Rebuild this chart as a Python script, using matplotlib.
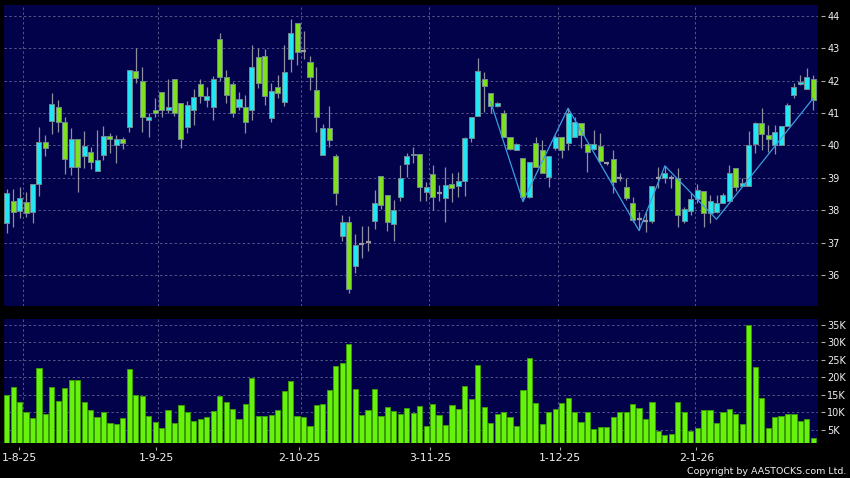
import matplotlib
matplotlib.use("Agg")
import matplotlib.pyplot as plt
import numpy as np
from matplotlib.ticker import FixedLocator, FuncFormatter

# ---------------- data ----------------
opens = [37.59, 38.29, 37.98, 38.24, 37.93, 38.80, 40.11, 40.76, 41.18, 40.74,
         39.32, 40.19, 39.69, 39.80, 39.20, 39.72, 40.29, 40.00, 40.19, 40.58,
         42.30, 41.99, 40.80, 41.09, 41.64, 41.09, 42.04, 41.32, 40.56, 41.09,
         41.89, 41.39, 41.20, 43.28, 42.12, 41.90, 41.20, 41.20, 41.11, 42.74,
         42.77, 40.84, 41.81, 41.33, 42.66, 43.77, 42.91, 42.57, 41.71, 39.70,
         40.53, 39.68, 37.21, 37.64, 36.28, 36.97, 37.02, 37.67, 39.07, 38.48,
         37.57, 38.41, 39.44, 39.70, 39.75, 38.55, 39.12, 38.54, 38.39, 38.80,
         38.75, 38.90, 40.24, 40.91, 42.04, 41.61, 41.22, 40.99, 40.25, 39.86,
         39.60, 38.42, 40.09, 39.86, 39.02, 39.91, 40.25, 40.07, 40.25, 40.70,
         40.05, 39.88, 39.99, 39.45, 39.57, 38.98, 38.71, 38.21, 37.72, 37.67,
         37.67, 39.00, 39.00, 39.00, 38.98, 37.67, 37.98, 38.34, 38.60, 37.90,
         37.95, 38.23, 38.27, 39.29, 38.74, 38.74, 40.03, 40.68, 40.32, 40.01,
         40.01, 40.60, 41.56, 41.90, 41.73, 42.04]
highs = [38.65, 38.65, 38.71, 38.55, 38.82, 40.58, 40.32, 41.62, 41.40, 40.87,
         40.53, 40.19, 40.44, 39.96, 40.47, 40.61, 40.37, 40.32, 40.25, 42.33,
         43.00, 42.43, 41.01, 41.48, 41.64, 42.04, 42.04, 41.32, 41.38, 41.76,
         42.04, 41.81, 42.14, 43.46, 42.33, 41.97, 41.66, 41.56, 43.10, 43.00,
         42.97, 41.92, 42.18, 43.10, 43.90, 43.77, 43.55, 42.75, 42.41, 40.65,
         41.22, 39.73, 37.85, 37.82, 37.26, 37.51, 37.51, 38.62, 39.07, 38.48,
         38.31, 39.39, 39.78, 39.96, 39.75, 38.88, 39.40, 38.78, 39.35, 39.14,
         39.19, 40.27, 40.89, 42.69, 42.28, 41.61, 41.35, 41.09, 40.25, 40.07,
         39.60, 39.50, 40.25, 40.17, 39.69, 40.32, 40.25, 41.15, 40.89, 40.70,
         40.05, 40.48, 40.38, 39.50, 39.86, 39.15, 38.98, 38.42, 37.95, 37.95,
         38.76, 39.35, 39.37, 39.10, 39.29, 38.10, 38.52, 38.81, 38.60, 38.47,
         38.47, 38.52, 39.40, 39.29, 39.00, 40.45, 40.74, 41.15, 40.64, 40.64,
         40.60, 41.32, 41.92, 42.18, 42.38, 42.18]
lows = [37.30, 37.48, 37.77, 37.79, 37.59, 38.44, 39.68, 40.35, 40.42, 39.11,
        39.08, 38.57, 39.29, 39.26, 39.20, 39.55, 39.77, 39.46, 39.90, 40.42,
        41.94, 40.42, 40.27, 40.89, 40.89, 40.99, 40.91, 39.91, 40.39, 40.63,
        41.30, 41.20, 40.80, 42.00, 41.32, 40.89, 41.09, 40.39, 40.78, 41.79,
        41.25, 40.73, 41.48, 41.22, 42.28, 42.49, 42.66, 41.71, 40.42, 39.70,
        39.96, 38.16, 37.05, 35.44, 36.06, 36.51, 36.74, 37.43, 38.05, 37.36,
        37.05, 38.29, 39.03, 39.45, 38.27, 38.27, 38.00, 38.29, 37.65, 38.26,
        38.42, 38.44, 40.12, 40.91, 41.04, 41.00, 41.18, 40.25, 39.86, 39.86,
        38.27, 38.37, 39.35, 39.16, 38.71, 39.86, 39.60, 39.86, 40.25, 39.91,
        39.17, 39.86, 39.50, 39.40, 38.54, 38.90, 38.30, 37.65, 37.39, 37.33,
        37.60, 38.70, 38.85, 38.70, 37.49, 37.60, 37.85, 38.21, 37.49, 37.60,
        37.90, 38.21, 38.27, 38.58, 38.74, 38.74, 39.76, 39.86, 39.81, 39.73,
        40.01, 40.60, 41.48, 41.87, 41.73, 41.09]
closes = [38.52, 37.95, 38.39, 37.90, 38.80, 40.12, 39.91, 41.27, 40.74, 39.57,
          40.19, 39.34, 39.98, 39.49, 39.55, 40.29, 40.19, 40.19, 40.08, 42.33,
          42.07, 40.89, 40.87, 40.99, 41.09, 41.20, 40.99, 40.19, 41.25, 41.51,
          41.53, 41.53, 42.04, 42.10, 41.56, 40.99, 41.45, 40.73, 42.43, 41.94,
          41.54, 41.69, 41.61, 42.28, 43.48, 42.88, 42.91, 42.12, 40.87, 40.53,
          40.17, 38.52, 37.64, 35.58, 36.94, 36.97, 37.02, 38.21, 38.16, 37.64,
          38.02, 39.01, 39.68, 39.74, 38.73, 38.73, 38.42, 38.54, 38.78, 38.68,
          38.90, 40.24, 40.89, 42.31, 41.84, 41.22, 41.32, 40.25, 39.88, 40.04,
          38.42, 39.50, 39.35, 39.16, 39.69, 40.25, 39.86, 40.99, 40.74, 40.32,
          39.81, 40.05, 39.52, 39.45, 38.88, 38.98, 38.37, 37.70, 37.72, 37.67,
          38.76, 39.00, 39.16, 39.00, 37.85, 38.03, 38.34, 38.62, 37.90, 38.29,
          38.23, 38.47, 39.16, 38.71, 38.83, 40.01, 40.68, 40.35, 40.19, 40.42,
          40.60, 41.25, 41.80, 41.96, 42.10, 41.40]
volumes_k = [14.9, 17.2, 12.9, 10.2, 8.5, 22.8, 9.6, 17.4, 13.2, 16.9,
             19.2, 19.2, 13.1, 10.7, 8.6, 10.0, 6.9, 6.7, 8.4, 22.3,
             15.0, 14.6, 9.0, 7.2, 5.7, 10.6, 6.9, 12.0, 10.1, 7.6,
             8.2, 8.6, 10.3, 14.8, 12.9, 11.0, 8.0, 12.3, 19.8, 9.0,
             9.0, 9.2, 10.6, 16.1, 18.9, 9.0, 8.8, 6.0, 12.0, 12.3,
             16.4, 23.4, 24.0, 29.5, 16.8, 9.3, 10.7, 16.6, 9.1, 11.5,
             10.3, 9.6, 11.3, 9.9, 11.9, 6.0, 12.4, 9.2, 6.4, 12.2,
             10.9, 17.5, 13.9, 23.7, 11.7, 6.9, 9.7, 10.1, 8.7, 6.2,
             16.4, 25.5, 12.6, 6.7, 10.0, 11.0, 12.7, 14.0, 10.0, 7.2,
             10.0, 5.2, 5.9, 5.9, 8.6, 10.0, 10.1, 12.3, 11.3, 8.0,
             13.0, 4.7, 3.5, 3.8, 13.0, 10.2, 4.7, 5.7, 10.7, 10.6,
             7.1, 10.0, 10.9, 9.5, 6.7, 35.0, 23.1, 14.2, 5.7, 8.8,
             9.0, 9.6, 9.6, 7.7, 8.0, 2.7]
zigzag_idx = [75, 80, 87, 98, 102, 110, 125]
zigzag_val = [41.35, 38.27, 41.15, 37.37, 39.37, 37.72, 41.46]
date_labels = ["1-8-25", "1-9-25", "2-10-25", "3-11-25", "1-12-25", "2-1-26"]
date_label_idx = [1.95, 23.18, 45.34, 65.6, 85.74, 106.9]
date_grid_idx = [2.57, 23.5, 45.6, 65.5, 85.5, 106.6]
price_ticks = [36, 37, 38, 39, 40, 41, 42, 43, 44]
volume_ticks = [5, 10, 15, 20, 25, 30, 35]

# ---------------- style ----------------
BG = "#02024a"
UP = "#22e6f2"
DOWN = "#7fe01e"
DOJI = "#9a9aa0"
WICK = "#8e8e9e"
EDGE = "#6f8a92"
VOL = "#66f20a"
VOL_EDGE = "#3a9a08"
GRID = "#55558c"
TXT = "#f0f0f0"
grid_ls = (0, (2.5, 2.5))

W, H = 850, 478
fig = plt.figure(figsize=(W / 100, H / 100), dpi=100, facecolor="black")
axp = fig.add_axes([4 / W, 1 - 306 / H, 814 / W, 301 / H], facecolor=BG)
axv = fig.add_axes([4 / W, 1 - 443.3 / H, 814 / W, 124.3 / H], facecolor=BG)

o = np.array(opens); h = np.array(highs); l = np.array(lows); c = np.array(closes)
x = np.arange(len(o))

# wicks
axp.vlines(x, l, h, color=WICK, lw=0.9, zorder=2)
up = c > o
dn = c < o
eq = c == o
bw = 0.78
axp.bar(x[up], (c - o)[up], bottom=o[up], width=bw, color=UP, edgecolor=EDGE,
        lw=0.7, zorder=3)
axp.bar(x[dn], (o - c)[dn], bottom=c[dn], width=bw, color=DOWN, edgecolor=EDGE,
        lw=0.7, zorder=3)
axp.hlines(c[eq], x[eq] - bw / 2, x[eq] + bw / 2, color=DOJI, lw=1.6, zorder=3)

axp.plot(zigzag_idx, zigzag_val, color="#3a9ee0", lw=0.9, zorder=4)

xlim = (-0.42, 125.73)
axp.set_xlim(*xlim)
axp.set_ylim(35.04, 44.34)

# volume
axv.bar(x, volumes_k, width=0.8, color=VOL, edgecolor=VOL_EDGE, lw=0.7, zorder=3)
axv.set_xlim(*xlim)
axv.set_ylim(1.2, 36.7)

for ax in (axp, axv):
    for s in ax.spines.values():
        s.set_visible(False)
    for g in date_grid_idx:
        ax.axvline(g, color=GRID, lw=0.7, ls=grid_ls, zorder=1)
    ax.yaxis.tick_right()
    ax.spines["right"].set_position(("outward", 2.2))
    ax.tick_params(axis="y", which="both", right=True, left=False, length=2.6,
                   width=0.8, color="#aaaaaa", labelcolor=TXT, labelsize=7, pad=2)
    ax.grid(axis="y", color=GRID, lw=0.7, ls=grid_ls, zorder=1)
    ax.set_axisbelow(True)

axp.yaxis.set_major_locator(FixedLocator(price_ticks))
axp.yaxis.set_major_formatter(FuncFormatter(lambda v, p: f"{int(round(v))}"))
axp.tick_params(axis="x", bottom=False, labelbottom=False)

axv.yaxis.set_major_locator(FixedLocator(volume_ticks))
axv.yaxis.set_major_formatter(FuncFormatter(lambda v, p: f"{int(round(v))}K"))
axv.xaxis.set_major_locator(FixedLocator(date_label_idx))
axv.set_xticklabels(date_labels)
axv.spines["bottom"].set_position(("outward", 2.4))
axv.tick_params(axis="x", length=2.4, width=0.8, color="#aaaaaa",
                labelcolor=TXT, labelsize=7.8, pad=2.5)

fig.text(846 / W, 1 - 471.7 / H, "Copyright by AASTOCKS.com Ltd.", ha="right",
         va="center", color=TXT, fontsize=6.8)

fig.savefig("out.png", dpi=100, facecolor="black")
